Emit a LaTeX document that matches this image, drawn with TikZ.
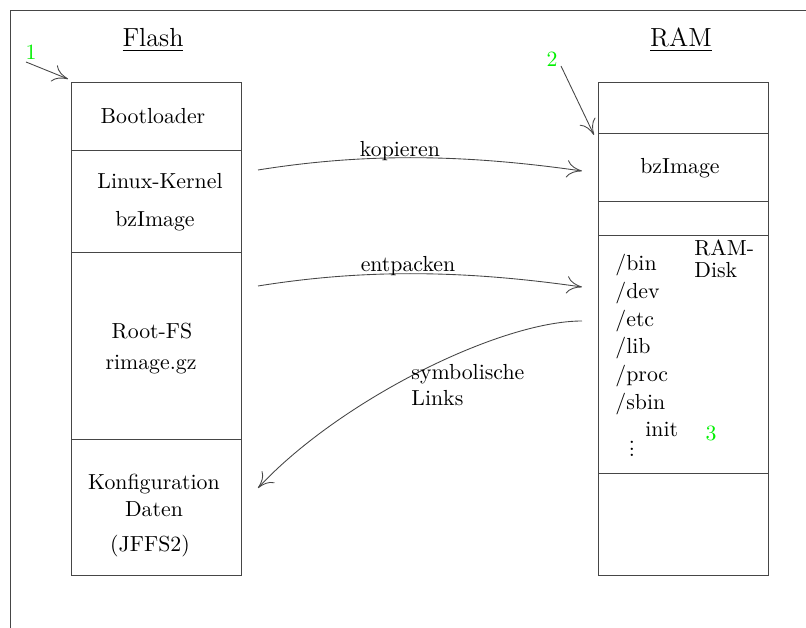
\documentclass[tikz,border=0pt]{standalone}
\usetikzlibrary{arrows.meta}
\definecolor{lin}{RGB}{70,70,70}
\definecolor{num}{RGB}{0,240,0}
\begin{document}
\begin{tikzpicture}[x=0.4587pt,y=-0.4587pt,
  box/.style={draw=lin,line width=0.4pt},
  conn/.style={draw=lin,line width=0.4pt,-{To[length=7pt,width=8pt]}},
  lbl/.style={inner sep=0pt,font=\normalsize},
  ttl/.style={inner sep=0pt,font=\large},
  numlbl/.style={inner sep=0pt,text=num}]
\useasboundingbox (0,0) rectangle (806,628);
% frame
\draw[lin,line width=0.4pt] (806,10) -- (10,10) -- (10,628);
% titles
\node[ttl] (tflash) at (153,40) {\underline{Flash}};
\node[ttl] (tram) at (681,40) {\underline{RAM}};
% Flash boxes
\draw[box] (71,82) rectangle (241,575);
\draw[box] (71,150) -- (241,150) (71,252) -- (241,252) (71,439) -- (241,439);
% RAM boxes
\draw[box] (598,82) rectangle (768,575);
\draw[box] (598,133) -- (768,133) (598,201) -- (768,201) (598,235) -- (768,235) (598,473) -- (768,473);
% Flash texts
\node[lbl] (boot) at (153,116) {Bootloader};
\node[lbl] (kern) at (160,181) {Linux-Kernel};
\node[lbl] (bz1) at (155,221) {bzImage};
\node[lbl] (root) at (152,331) {Root-FS};
\node[lbl] (rim) at (151,365) {rimage.gz};
\node[lbl] (konf) at (154,484) {Konfiguration};
\node[lbl] (daten) at (154,509) {Daten};
\node[lbl] (jffs) at (150,546) {(JFFS2)};
% RAM texts
\node[lbl] (bz2) at (680,168) {bzImage};
\node[lbl,anchor=west] (ram) at (694,248) {RAM-};
\node[lbl,anchor=west] (disk) at (694,270) {Disk};
\node[lbl,anchor=west] (bin) at (615,265) {/bin};
\node[lbl,anchor=west] (dev) at (615,293) {/dev};
\node[lbl,anchor=west] (etc) at (615,321) {/etc};
\node[lbl,anchor=west] (lib) at (615,348) {/lib};
\node[lbl,anchor=west] (proc) at (615,376) {/proc};
\node[lbl,anchor=west] (sbin) at (615,404) {/sbin};
\node[lbl,anchor=west] (init) at (645,429) {init};
\node[lbl,anchor=south] (dots) at (632,457) {\vbox{\baselineskip=3pt\lineskiplimit=-5pt\hbox{.}\hbox{.}\hbox{.}}};
% numbers
\node[numlbl] (n1) at (31,52) {1};
\node[numlbl] (n2) at (552,59) {2};
\node[numlbl] (n3) at (711,433) {3};
\coordinate (n1s) at (26,62);
\coordinate (n1e) at (68,79);
\coordinate (n2s) at (561,66);
\coordinate (n2e) at (594,135);
\draw[conn] (n1s) -- (n1e);
\draw[conn] (n2s) -- (n2e);
% connectors
\coordinate (k1) at (258,170);
\coordinate (k2) at (582,171);
\coordinate (e1) at (258,286);
\coordinate (e2) at (582,287);
\coordinate (s1) at (582,321);
\coordinate (s2) at (258,488);
\draw[conn] (k1) .. controls (370,152) and (470,155) .. (k2);
\draw[conn] (e1) .. controls (370,268) and (470,271) .. (e2);
\draw[conn] (s1) .. controls (500,321) and (340,400) .. (s2);
\node[lbl] (kop) at (400,151) {kopieren};
\node[lbl] (ent) at (408,266) {entpacken};
\node[lbl,anchor=west] (sym) at (411,374) {symbolische};
\node[lbl,anchor=west] (links) at (411,398) {Links};
\end{tikzpicture}
\end{document}
